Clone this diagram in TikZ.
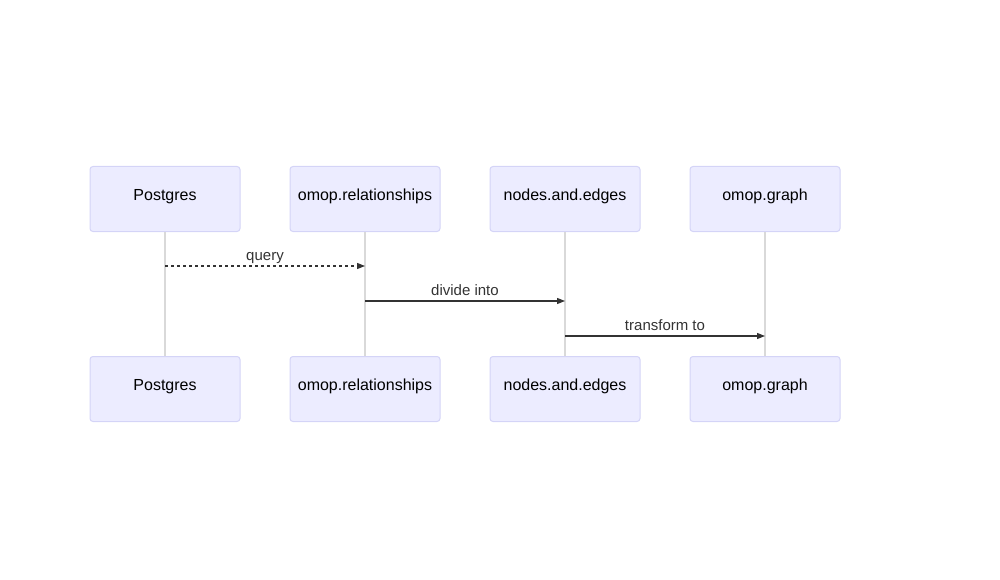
\documentclass[tikz,border=0pt]{standalone}
\usepackage{fontspec}
\setmainfont{Liberation Sans}
\usetikzlibrary{arrows.meta}

\definecolor{actorfill}{HTML}{ECECFF}
\definecolor{actorline}{HTML}{D4D4F7}
\definecolor{lifeline}{HTML}{D9D9D9}
\definecolor{msgline}{HTML}{333333}

\begin{document}
\begin{tikzpicture}[x=1pt, y=-1pt,
	actor/.style={shape=rectangle, rounded corners=3pt, draw=actorline, fill=actorfill, line width=1pt, minimum width=150pt, minimum height=65pt, text height=12pt, text depth=9pt, font=\fontsize{16}{19}\selectfont},
	msg/.style={line width=1.2pt, draw=msgline, -{Triangle[length=8pt, width=6pt]}},
	msglabel/.style={font=\fontsize{15}{18}\selectfont, text=msgline, inner sep=0pt, anchor=base}]

	\useasboundingbox (0, 0) rectangle (1000, 580);

	\node[actor] (pgT) at (165, 199) {Postgres};
	\node[actor] (relT) at (365, 199) {omop.relationships};
	\node[actor] (neT) at (565, 199) {nodes.and.edges};
	\node[actor] (grT) at (765, 199) {omop.graph};

	\node[actor] (pgB) at (165, 389) {Postgres};
	\node[actor] (relB) at (365, 389) {omop.relationships};
	\node[actor] (neB) at (565, 389) {nodes.and.edges};
	\node[actor] (grB) at (765, 389) {omop.graph};

	\path[-, line width=1.5pt, draw=lifeline] (pgT) edge (pgB);
	\path[-, line width=1.5pt, draw=lifeline] (relT) edge (relB);
	\path[-, line width=1.5pt, draw=lifeline] (neT) edge (neB);
	\path[-, line width=1.5pt, draw=lifeline] (grT) edge (grB);

	\coordinate (q1) at (165, 266);
	\coordinate (q2) at (365, 266);
	\coordinate (d1) at (365, 301);
	\coordinate (d2) at (565, 301);
	\coordinate (t1) at (565, 336);
	\coordinate (t2) at (765, 336);

	\draw[msg, dash pattern=on 3pt off 3pt] (q1) -- (q2);
	\draw[msg] (d1) -- (d2);
	\draw[msg] (t1) -- (t2);

	\node[msglabel] (qL) at (265, 260) {query};
	\node[msglabel] (dL) at (465, 295) {divide into};
	\node[msglabel] (tL) at (665, 330) {transform to};

\end{tikzpicture}
\end{document}
